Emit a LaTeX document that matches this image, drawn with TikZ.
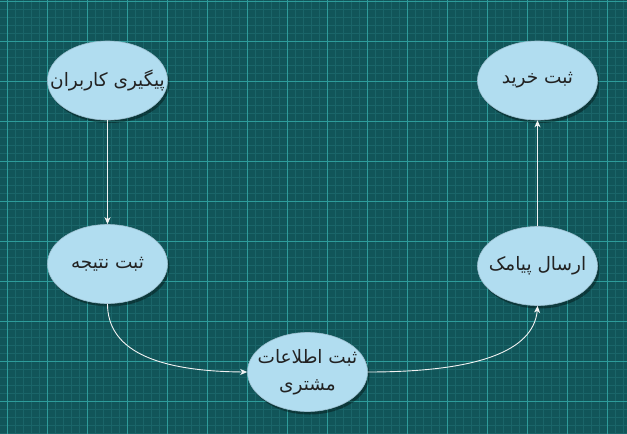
\documentclass[tikz,border=0pt]{standalone}
\usepackage{fontspec}
\TeXXeTstate=1
\newfontfamily\arabicfont[Script=Arabic]{DejaVu Sans}
\usetikzlibrary{calc,arrows.meta,shadows,shapes.geometric,bending}
\definecolor{bgcol}{HTML}{115559}
\definecolor{minorcol}{HTML}{1A6569}
\definecolor{majorcol}{HTML}{2E9C9B}
\definecolor{ellfill}{HTML}{B1DDF0}
\definecolor{elldraw}{HTML}{9CBFD0}
\definecolor{txtcol}{HTML}{222222}
\definecolor{edgecol}{HTML}{F2F2F2}
\tikzset{
  stepnode/.style={ellipse, minimum width=120pt, minimum height=79pt, inner xsep=-18pt, inner ysep=-8pt,
    fill=ellfill, draw=elldraw, line width=0.6pt, text=txtcol, align=center,
    font=\arabicfont\fontsize{18.5}{27}\selectfont,
    drop shadow={shadow xshift=2pt, shadow yshift=-3pt, opacity=0.35, fill=black}},
  flow/.style={draw=edgecol, line width=0.9pt, -{Stealth[length=7pt,width=6pt,inset=2pt,bend]}}
}
\begin{document}
\begin{tikzpicture}[x=1pt,y=-1pt]
\useasboundingbox (0,0) rectangle (627,434);
\fill[bgcol] (0,0) rectangle (627,434);
\foreach \i in {0,...,79} {
  \draw[minorcol, line width=0.8pt] ({-0.7+8*\i},0) -- ({-0.7+8*\i},434);
}
\foreach \i in {0,...,55} {
  \draw[minorcol, line width=0.8pt] (0,{1.5+8*\i}) -- (627,{1.5+8*\i});
}
\foreach \i in {0,...,15} {
  \draw[majorcol, line width=0.9pt] ({7.3+40*\i},0) -- ({7.3+40*\i},434);
}
\foreach \i in {0,...,10} {
  \draw[majorcol, line width=0.9pt] (0,{1.5+40*\i}) -- (627,{1.5+40*\i});
}

\node[stepnode] (n1) at (107.5,80.5) {\beginR پیگیری کاربران\endR};
\node[stepnode] (n2) at (537.5,80.5) {\beginR ثبت خرید\endR};
\node[stepnode] (n3) at (107.5,264) {\beginR ثبت نتیجه\endR};
\node[stepnode] (n4) at (537.5,266) {\beginR ارسال پیامک\endR};
\node[stepnode] (n5) at (307.5,372) {\beginR ثبت اطلاعات\endR\\\beginR مشتری\endR};

\draw[flow] (n1) -- (n3);
\draw[flow] (n4) -- (n2);
\draw[flow] (n3.south) .. controls ($(n3.south)!0.667!(n3.south |- n5.west)$) and ($(n5.west)!0.667!(n3.south |- n5.west)$) .. (n5.west);
\draw[flow] (n5.east) .. controls ($(n5.east)!0.667!(n4.south |- n5.east)$) and ($(n4.south)!0.667!(n4.south |- n5.east)$) .. (n4.south);
\end{tikzpicture}
\end{document}
